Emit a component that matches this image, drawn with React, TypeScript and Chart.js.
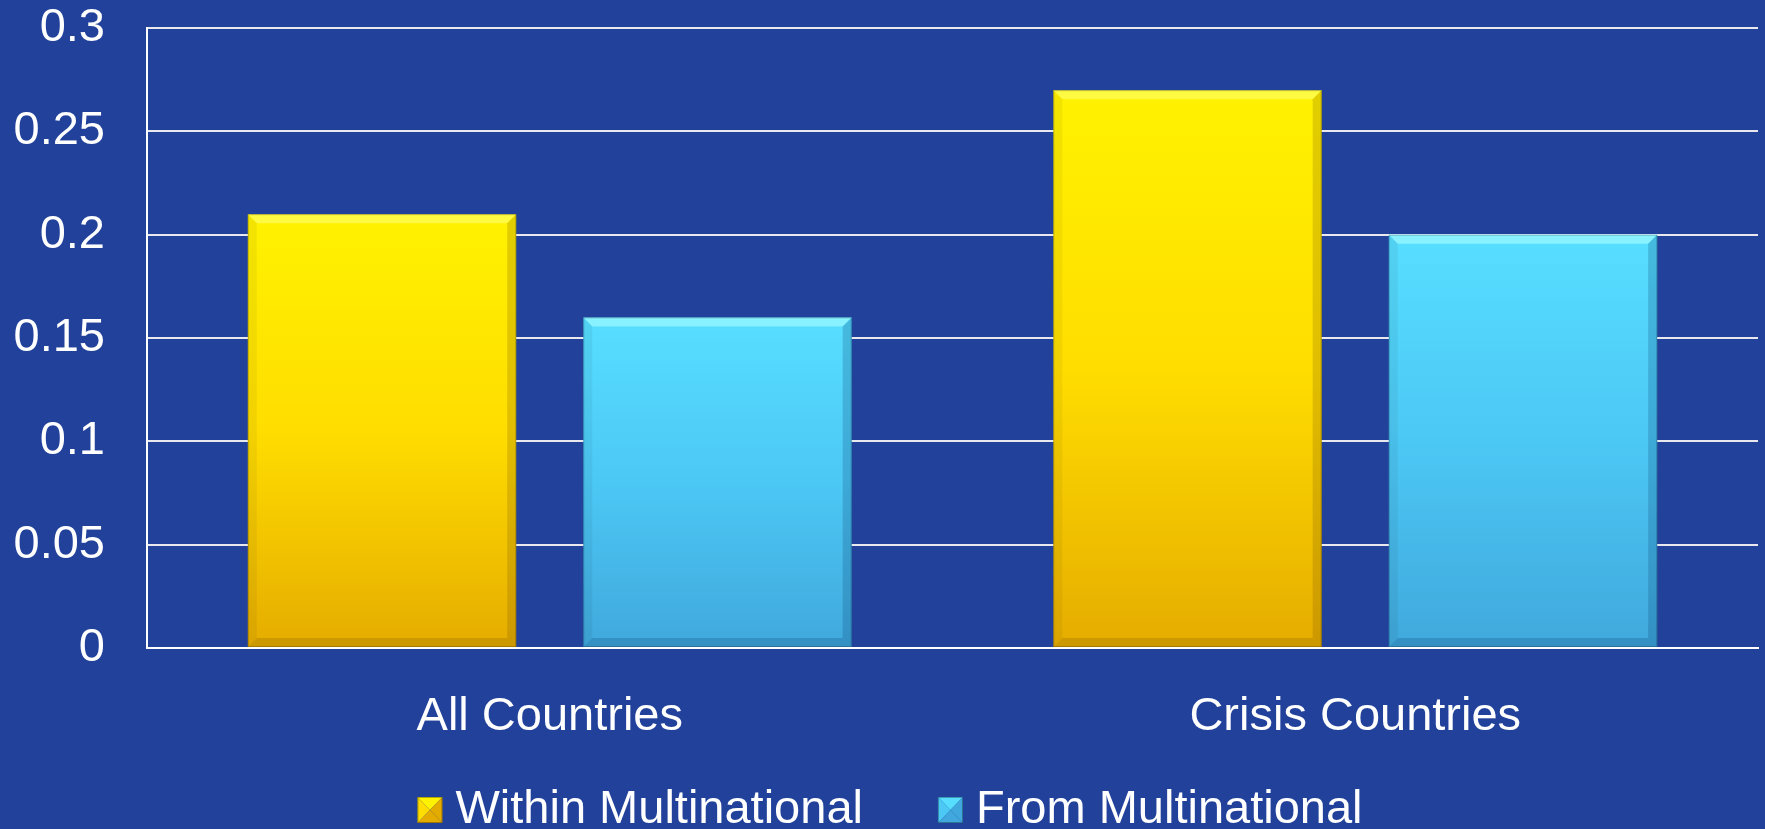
import React, { useEffect, useRef } from "react";
import { Chart, registerables } from "chart.js";

Chart.register(...registerables);

const categories = ["All Countries", "Crisis Countries"];
const withinValues = [0.21, 0.27];
const fromValues = [0.16, 0.2];
const seriesLabels = ["Within Multinational", "From Multinational"];
const yTickLabels = ["0", "0.05", "0.1", "0.15", "0.2", "0.25", "0.3"];

const BG = "#21419B";
const FONT = "'Liberation Sans', Arial, sans-serif";
const FONT_SIZE = 47;

const palettes = [
  { top: "#FFF200", mid: "#FFDD00", bottom: "#E5AC00", light: "rgba(255,255,110,0.6)", dark: "rgba(120,80,0,0.22)" },
  { top: "#57DEFF", mid: "#4CC8F5", bottom: "#40A8DC", light: "rgba(170,255,255,0.6)", dark: "rgba(10,60,110,0.22)" },
];

function barGradient(idx: number) {
  return (context: any) => {
    const chart = context.chart;
    const area = chart.chartArea;
    if (!area || context.raw == null) return palettes[idx].mid;
    const yScale = chart.scales.y;
    const top = yScale.getPixelForValue(context.raw);
    const bottom = yScale.getPixelForValue(0);
    const g = chart.ctx.createLinearGradient(0, top, 0, bottom);
    g.addColorStop(0, palettes[idx].top);
    g.addColorStop(0.5, palettes[idx].mid);
    g.addColorStop(1, palettes[idx].bottom);
    return g;
  };
}

const bgPlugin = {
  id: "bgFill",
  beforeDraw(chart: any) {
    const c = chart.ctx;
    c.save();
    c.fillStyle = BG;
    c.fillRect(0, 0, chart.width, chart.height);
    c.restore();
  },
};

const bevelPlugin = {
  id: "bevel",
  afterDatasetsDraw(chart: any) {
    const c = chart.ctx;
    chart.data.datasets.forEach((ds: any, di: number) => {
      const meta = chart.getDatasetMeta(di);
      const pal = palettes[di];
      meta.data.forEach((bar: any) => {
        const { x, y, base, width } = bar.getProps(["x", "y", "base", "width"], true);
        const l = x - width / 2;
        const r = x + width / 2;
        const t = y;
        const b = base;
        const bv = 9;
        c.save();
        c.fillStyle = pal.light;
        c.beginPath();
        c.moveTo(l, t); c.lineTo(r, t); c.lineTo(r - bv, t + bv); c.lineTo(l + bv, t + bv); c.closePath();
        c.fill();
        c.fillStyle = "rgba(0,0,0,0.05)";
        c.beginPath();
        c.moveTo(l, t); c.lineTo(l + bv, t + bv); c.lineTo(l + bv, b - bv); c.lineTo(l, b); c.closePath();
        c.fill();
        c.fillStyle = pal.dark;
        c.beginPath();
        c.moveTo(r, t); c.lineTo(r - bv, t + bv); c.lineTo(r - bv, b - bv); c.lineTo(r, b); c.closePath();
        c.fill();
        c.beginPath();
        c.moveTo(l, b); c.lineTo(l + bv, b - bv); c.lineTo(r - bv, b - bv); c.lineTo(r, b); c.closePath();
        c.fill();
        c.strokeStyle = "rgba(0,0,0,0.2)";
        c.lineWidth = 1;
        c.strokeRect(l + 0.5, t + 0.5, width - 1, b - t - 1);
        c.restore();
      });
    });
  },
};

const legendPlugin = {
  id: "customLegend",
  afterDraw(chart: any) {
    const c = chart.ctx;
    c.save();
    c.font = `${FONT_SIZE}px ${FONT}`;
    c.textBaseline = "middle";
    c.textAlign = "left";
    const box = 25;
    const gap = 13;
    const itemGap = 75;
    const labels = chart.data.datasets.map((d: any) => d.label);
    const widths = labels.map((t: string) => c.measureText(t).width);
    const total = widths.reduce((a: number, w: number) => a + box + gap + w, 0) + itemGap * (labels.length - 1);
    let x = 890 - total / 2;
    const cy = 810;
    labels.forEach((t: string, i: number) => {
      const pal = palettes[i];
      const bx = x, by = cy - 13, bw = box, bh = 26;
      const cxm = bx + bw / 2, cym = by + bh / 2;
      const tri = (pts: number[][], col: string) => {
        c.fillStyle = col;
        c.beginPath();
        c.moveTo(pts[0][0], pts[0][1]);
        for (let k = 1; k < pts.length; k++) c.lineTo(pts[k][0], pts[k][1]);
        c.closePath();
        c.fill();
      };
      tri([[bx, by], [bx + bw, by], [cxm, cym]], pal.top);
      tri([[bx, by], [cxm, cym], [bx, by + bh]], pal.mid);
      tri([[bx + bw, by], [bx + bw, by + bh], [cxm, cym]], pal.bottom);
      tri([[bx, by + bh], [cxm, cym], [bx + bw, by + bh]], pal.bottom);
      c.strokeStyle = "rgba(0,0,0,0.3)";
      c.lineWidth = 1;
      c.strokeRect(bx + 0.5, by + 0.5, bw - 1, bh - 1);
      c.fillStyle = "#FFFFFF";
      c.fillText(t, x + box + gap, cy);
      x += box + gap + widths[i] + itemGap;
    });
    c.restore();
  },
};

export default function App() {
  const ref = useRef<HTMLCanvasElement | null>(null);

  useEffect(() => {
    document.body.style.margin = "0";
    document.body.style.background = BG;
    if (!ref.current) return;
    const chart = new Chart(ref.current, {
      type: "bar",
      data: {
        labels: categories,
        datasets: [
          {
            label: seriesLabels[0],
            data: withinValues,
            backgroundColor: barGradient(0),
            borderWidth: 0,
          },
          {
            label: seriesLabels[1],
            data: fromValues,
            backgroundColor: barGradient(1),
            borderWidth: 0,
          },
        ],
      },
      options: {
        responsive: false,
        animation: false,
        devicePixelRatio: 1,
        categoryPercentage: 0.833,
        barPercentage: 0.8,
        layout: { padding: { top: 27, right: 7, bottom: 83, left: 0 } },
        plugins: {
          legend: { display: false },
          tooltip: { enabled: false },
        },
        scales: {
          x: {
            grid: { display: false, drawTicks: false },
            border: { display: true, color: "#FFFFFF", width: 2 },
            ticks: {
              color: "#FFFFFF",
              font: { family: FONT, size: FONT_SIZE },
              padding: 41,
            },
            afterFit(scale: any) {
              scale.height = 98;
            },
          },
          y: {
            min: 0,
            max: 0.3,
            afterBuildTicks(scale: any) {
              scale.ticks = yTickLabels.map((s) => ({ value: parseFloat(s) }));
            },
            grid: { color: "#E8E8EE", lineWidth: 2, drawTicks: true, tickLength: 42, tickColor: "rgba(0,0,0,0)" },
            border: { display: true, color: "#FFFFFF", width: 2 },
            ticks: {
              color: "#FFFFFF",
              font: { family: FONT, size: FONT_SIZE },
              padding: 0,
              callback: (_v: any, i: number) => yTickLabels[i],
            },
            afterFit(scale: any) {
              scale.width = 147;
            },
          },
        },
      },
      plugins: [bgPlugin, bevelPlugin, legendPlugin],
    });
    return () => chart.destroy();
  }, []);

  return (
    <div style={{ width: 1765, height: 829, background: BG }}>
      <canvas ref={ref} width={1765} height={829} style={{ display: "block", width: 1765, height: 829 }} />
    </div>
  );
}
